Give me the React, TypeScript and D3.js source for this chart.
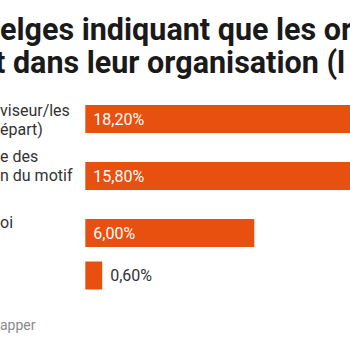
import React from "react";
import * as d3 from "d3";

// visible fragments of the (cropped) chart
const titleLines = ["elges indiquant que les or", "t dans leur organisation (l"];
const labelLines = [["viseur/les", "épart)"], ["e des", "n du motif"], ["oi"], []];
const wrappedLineCount = [2, 3, 2, 1]; // total wrapped lines per label (some fall outside the crop)
const values = [18.2, 15.8, 6.0, 0.6];
const footer = "apper";

const W = 350;
const H = 350;
const ORANGE = "#e8500f";
const FONT = "Roboto, 'Noto Sans', sans-serif";

const frFormat = d3.formatLocale({
  decimal: ",",
  thousands: " ",
  grouping: [3],
  currency: ["", " €"],
}).format(".2f");

export default function App() {
  const barH = 28;
  const lineH = 19;
  const rowPad = 9.5;
  const firstCenter = 119;

  const x = d3.scaleLinear().domain([0, 20]).range([85.3, 85.3 + 563.3]);

  // row centres: each row is as tall as its label (or bar)
  const rowH = wrappedLineCount.map((n) => Math.max(barH, n * lineH));
  const centers: number[] = [];
  rowH.forEach((h, i) => {
    if (i === 0) centers.push(firstCenter);
    else centers.push(centers[i - 1] + rowH[i - 1] / 2 + rowPad + h / 2);
  });

  return (
    <svg
      width={W}
      height={H}
      style={{ position: "absolute", left: 0, top: 0, background: "#fff" }}
      fontFamily={FONT}
    >
      {/* title, cropped on both sides like the reference */}
      {titleLines.map((t, i) => (
        <text
          key={i}
          x={i === 0 ? 0 : -5}
          y={40 + i * 33}
          fontSize={30.5}
          fontWeight={700}
          fill="#1a1a1a"
        >
          {t}
        </text>
      ))}

      {values.map((v, i) => {
        const c = centers[i];
        const n = wrappedLineCount[i];
        const w = x(v) - x(0);
        const inside = w > 60;
        return (
          <g key={i}>
            {labelLines[i].map((l, j) => (
              <text
                key={j}
                x={0}
                y={c - (n * lineH) / 2 + j * lineH + lineH / 2 + (i === 0 ? 1.5 : 0)}
                dy="0.3em"
                fontSize={16}
                fill="#333"
              >
                {l}
              </text>
            ))}
            <rect x={x(0)} y={c - barH / 2} width={w} height={barH} fill={ORANGE} />
            <text
              x={inside ? x(0) + 8 : x(v) + 8}
              y={c}
              dy="0.36em"
              fontSize={16}
              fill={inside ? "#fff" : "#333"}
            >
              {frFormat(v)}%
            </text>
          </g>
        );
      })}

      <text x={0} y={330} fontSize={14} fill="#8a8a8a">
        {footer}
      </text>
    </svg>
  );
}
